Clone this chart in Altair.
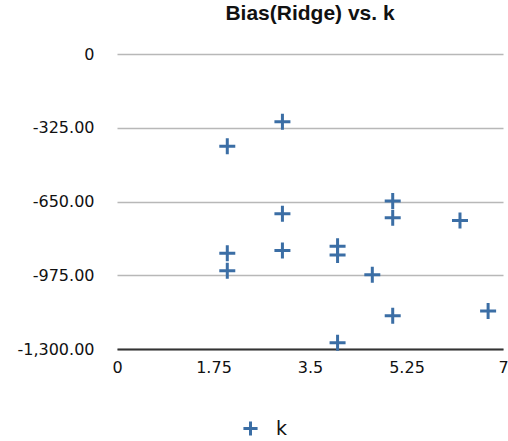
import altair as alt
import pandas as pd

k_values = [2, 2, 2, 3, 3, 3, 4, 4, 4, 4.63, 5, 5, 5, 6.22, 6.73]
bias_values = [-407, -878, -955, -299, -704, -866, -847, -886, -1272, -973, -648, -722, -1154, -734, -1132]
series_name = "k"
title_text = "Bias(Ridge) vs. k"
x_ticks = [0, 1.75, 3.5, 5.25, 7]
y_ticks = [-1300, -975, -650, -325, 0]

df = pd.DataFrame({"k": k_values, "bias": bias_values, "series": [series_name] * len(k_values)})

cross = "M-1,0L1,0M0,-1L0,1"
blue = "#3b6ea5"

chart = alt.Chart(df).mark_point(
    shape=cross, filled=False, size=256, strokeWidth=3, opacity=1
).encode(
    x=alt.X("k:Q", scale=alt.Scale(domain=[0, 7], nice=False, zero=False),
            axis=alt.Axis(values=x_ticks, labelExpr="datum.value + ''", title=None, grid=False,
                          ticks=False, domainColor="#333333", domainWidth=2,
                          labelFont="DejaVu Sans", labelFontSize=16, labelColor="#111111",
                          labelPadding=10, labelFlush=False)),
    y=alt.Y("bias:Q", scale=alt.Scale(domain=[-1300, 0], nice=False),
            axis=alt.Axis(values=y_ticks, title=None, domain=False, ticks=False,
                          grid=True, gridColor="#b8b8b8", gridWidth=1.5,
                          labelExpr="datum.value == 0 ? '0' : '-' + format(abs(datum.value), ',.2f')",
                          labelFont="DejaVu Sans", labelFontSize=16, labelColor="#111111",
                          labelPadding=23)),
    color=alt.Color("series:N", scale=alt.Scale(domain=[series_name], range=[blue]),
                    legend=alt.Legend(title=None, orient="none", legendX=124, legendY=365,
                                      symbolType=cross, symbolSize=200, symbolStrokeWidth=3,
                                      labelFont="DejaVu Sans", labelFontSize=19,
                                      labelColor="#111111", labelOffset=16)),
).properties(
    width=386,
    height=295,
    padding={"left": 117, "top": 54, "right": 5, "bottom": 92},
    autosize=alt.AutoSizeParams(type="none"),
    title=alt.TitleParams(title_text, font="Liberation Sans", fontSize=21, fontWeight="bold",
                          anchor="middle", offset=22, color="#111111"),
).configure_view(stroke=None)

chart.save("out.html", embed_options={"renderer": "svg", "actions": False})
